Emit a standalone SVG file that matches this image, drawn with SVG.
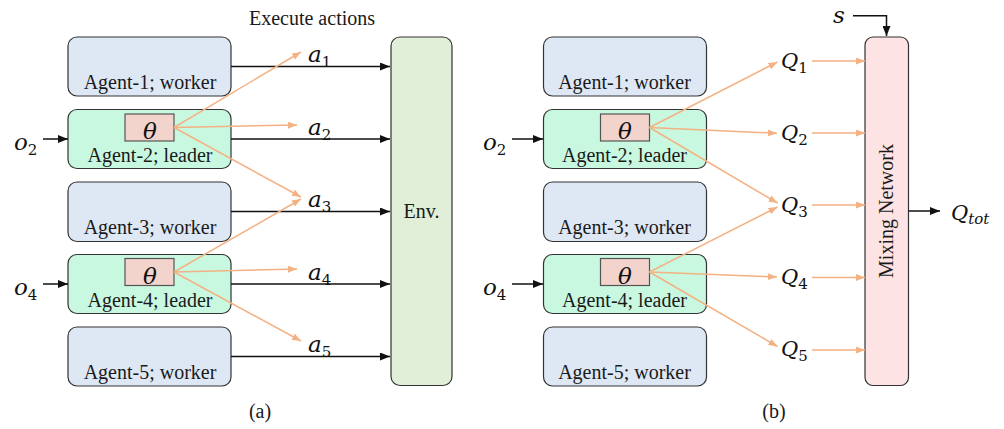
<svg xmlns="http://www.w3.org/2000/svg" width="1004" height="429" viewBox="0 0 1004 429">
<defs>
<style>
.worker{fill:#dee8f4;stroke:#333;stroke-width:1.2}
.leader{fill:#c8f9e0;stroke:#333;stroke-width:1.2}
.theta{fill:#f2d4cc;stroke:#555;stroke-width:1.2}
.env{fill:#e1eed8;stroke:#333;stroke-width:1.2}
.mix{fill:#fde3e4;stroke:#333;stroke-width:1.2}
.lbl{font-family:"Liberation Serif",serif;font-size:20px;fill:#1a1a1a}
.math{font-family:"DejaVu Serif",serif;font-style:italic;font-size:23px;fill:#111}
.q{font-size:21px}
.sub{font-style:normal;font-size:15px}
.subi{font-style:italic;font-size:15px}
.blk{stroke:#111;stroke-width:1.5;fill:none;marker-end:url(#ab)}
.org{stroke:#f4b183;stroke-width:1.5;fill:none;marker-end:url(#ao)}
</style>
<marker id="ab" markerUnits="userSpaceOnUse" markerWidth="10" markerHeight="8" refX="10" refY="4" orient="auto"><path d="M0,0 L10,4 L0,8 z" fill="#111"/></marker>
<marker id="ao" markerUnits="userSpaceOnUse" markerWidth="10" markerHeight="8" refX="9" refY="3.5" orient="auto"><path d="M0,0 L9,3.5 L0,7 z" fill="#f4b183"/></marker>
</defs>

<!-- Panel (a) -->
<text class="lbl" x="312" y="25" text-anchor="middle">Execute actions</text>

<g id="a-agent1"><rect class="worker" x="68" y="37" width="163" height="59" rx="9"/><text class="lbl" x="150" y="89" text-anchor="middle">Agent-1; worker</text></g>
<g id="a-agent2"><rect class="leader" x="68" y="109.5" width="163" height="59" rx="9"/><rect class="theta" x="125" y="114" width="49" height="27"/><text class="math" x="150" y="139" text-anchor="middle" font-size="22">θ</text><text class="lbl" x="150" y="161.5" text-anchor="middle">Agent-2; leader</text></g>
<g id="a-agent3"><rect class="worker" x="68" y="182" width="163" height="59.5" rx="9"/><text class="lbl" x="150" y="234" text-anchor="middle">Agent-3; worker</text></g>
<g id="a-agent4"><rect class="leader" x="68" y="254.5" width="163" height="59" rx="9"/><rect class="theta" x="125" y="258.5" width="49" height="27"/><text class="math" x="150" y="283.5" text-anchor="middle" font-size="22">θ</text><text class="lbl" x="150" y="306.5" text-anchor="middle">Agent-4; leader</text></g>
<g id="a-agent5"><rect class="worker" x="68" y="327" width="163" height="59" rx="9"/><text class="lbl" x="150" y="379" text-anchor="middle">Agent-5; worker</text></g>
<g id="a-env"><rect class="env" x="391" y="37" width="61" height="348.5" rx="9"/><text class="lbl" x="421.5" y="218" text-anchor="middle">Env.</text></g>

<g id="a-labels">
<text class="math" x="14" y="150">o<tspan class="sub" dy="5">2</tspan></text>
<text class="math" x="14" y="295">o<tspan class="sub" dy="5">4</tspan></text>
<text class="math" x="308" y="62">a<tspan class="sub" dy="5">1</tspan></text>
<text class="math" x="308" y="135">a<tspan class="sub" dy="5">2</tspan></text>
<text class="math" x="308" y="207">a<tspan class="sub" dy="5">3</tspan></text>
<text class="math" x="308" y="280">a<tspan class="sub" dy="5">4</tspan></text>
<text class="math" x="308" y="352">a<tspan class="sub" dy="5">5</tspan></text>
<text class="lbl" x="260" y="418" text-anchor="middle">(a)</text>
</g>

<!-- Panel (b) -->
<g id="b-agent1"><rect class="worker" x="543.5" y="37" width="163" height="59" rx="9"/><text class="lbl" x="624.5" y="89" text-anchor="middle">Agent-1; worker</text></g>
<g id="b-agent2"><rect class="leader" x="543.5" y="109.5" width="163" height="59" rx="9"/><rect class="theta" x="600.5" y="114" width="49" height="27"/><text class="math" x="625" y="139" text-anchor="middle" font-size="22">θ</text><text class="lbl" x="624.5" y="161.5" text-anchor="middle">Agent-2; leader</text></g>
<g id="b-agent3"><rect class="worker" x="543.5" y="182" width="163" height="59.5" rx="9"/><text class="lbl" x="624.5" y="234" text-anchor="middle">Agent-3; worker</text></g>
<g id="b-agent4"><rect class="leader" x="543.5" y="254.5" width="163" height="59" rx="9"/><rect class="theta" x="600.5" y="258.5" width="49" height="27"/><text class="math" x="625" y="283.5" text-anchor="middle" font-size="22">θ</text><text class="lbl" x="624.5" y="306.5" text-anchor="middle">Agent-4; leader</text></g>
<g id="b-agent5"><rect class="worker" x="543.5" y="327" width="163" height="59" rx="9"/><text class="lbl" x="624.5" y="379" text-anchor="middle">Agent-5; worker</text></g>
<g id="b-mix"><rect class="mix" x="865" y="37" width="43.5" height="348.5" rx="8"/><text class="lbl" x="0" y="0" text-anchor="middle" font-size="18" transform="translate(892.5,211) rotate(-90)">Mixing Network</text></g>

<g id="b-labels">
<text class="math" x="483" y="150">o<tspan class="sub" dy="5">2</tspan></text>
<text class="math" x="483" y="295">o<tspan class="sub" dy="5">4</tspan></text>
<text class="math" x="833" y="23">s</text>
<text class="math q" x="781" y="68">Q<tspan class="sub" dy="5">1</tspan></text>
<text class="math q" x="781" y="140">Q<tspan class="sub" dy="5">2</tspan></text>
<text class="math q" x="781" y="212">Q<tspan class="sub" dy="5">3</tspan></text>
<text class="math q" x="781" y="284">Q<tspan class="sub" dy="5">4</tspan></text>
<text class="math q" x="781" y="356">Q<tspan class="sub" dy="5">5</tspan></text>
<text class="math q" x="951" y="220">Q<tspan class="subi" dy="4">tot</tspan></text>
<text class="lbl" x="774" y="418" text-anchor="middle">(b)</text>
</g>

<g id="connectors">
<!-- (a) black -->
<line class="blk" x1="43" y1="139" x2="68" y2="139"/>
<line class="blk" x1="43" y1="284" x2="68" y2="284"/>
<line class="blk" x1="231" y1="66.5" x2="390" y2="66.5"/>
<line class="blk" x1="231" y1="139" x2="390" y2="139"/>
<line class="blk" x1="231" y1="211.5" x2="390" y2="211.5"/>
<line class="blk" x1="231" y1="284" x2="390" y2="284"/>
<line class="blk" x1="231" y1="356.5" x2="390" y2="356.5"/>
<!-- (a) orange -->
<line class="org" x1="174" y1="127.5" x2="301" y2="52"/>
<line class="org" x1="174" y1="127.5" x2="297" y2="125"/>
<line class="org" x1="174" y1="127.5" x2="301" y2="197"/>
<line class="org" x1="174" y1="272" x2="301" y2="199"/>
<line class="org" x1="174" y1="272" x2="297" y2="269"/>
<line class="org" x1="174" y1="272" x2="301" y2="341"/>
<!-- (b) black -->
<line class="blk" x1="512" y1="139" x2="543" y2="139"/>
<line class="blk" x1="512" y1="284" x2="543" y2="284"/>
<path class="blk" d="M853,15.7 H886.5 V36"/>
<line class="blk" x1="908.5" y1="211" x2="940" y2="211"/>
<!-- (b) orange -->
<line class="org" x1="649.5" y1="127.5" x2="777.5" y2="62"/>
<line class="org" x1="649.5" y1="127.5" x2="777" y2="133.3"/>
<line class="org" x1="649.5" y1="127.5" x2="777.5" y2="203"/>
<line class="org" x1="649.5" y1="272" x2="777.5" y2="207"/>
<line class="org" x1="649.5" y1="272" x2="777" y2="277"/>
<line class="org" x1="649.5" y1="272" x2="777.5" y2="346.5"/>
<line class="org" x1="812" y1="61" x2="865" y2="61"/>
<line class="org" x1="812" y1="133" x2="865" y2="133"/>
<line class="org" x1="812" y1="205" x2="865" y2="205"/>
<line class="org" x1="812" y1="277.5" x2="865" y2="277.5"/>
<line class="org" x1="812" y1="350" x2="865" y2="350"/>
</g>
</svg>
